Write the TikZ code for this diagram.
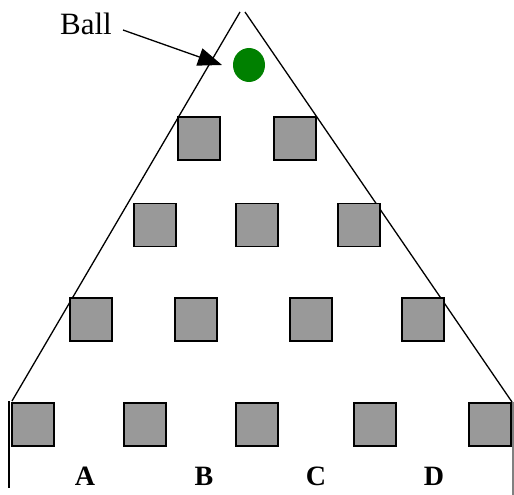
\documentclass[tikz,border=0pt]{standalone}
\usepackage{fontspec}
\setmainfont{Liberation Serif}
\usetikzlibrary{arrows.meta,shapes.geometric}
\definecolor{ballgreen}{RGB}{0,128,0}
\definecolor{pegfill}{RGB}{153,153,153}
\begin{document}
\begin{tikzpicture}[x=1pt,y=-1pt,
  peg/.style={draw=black,line width=1.8pt,fill=pegfill,minimum width=42pt,minimum height=43pt,inner sep=0pt},
  binlabel/.style={font=\fontsize{28}{28}\selectfont\bfseries,anchor=base,inner sep=0pt},
  wall/.style={line width=1.3pt}]
\useasboundingbox (0,0) rectangle (514,495);
% triangle sides and bin walls
\draw[wall] (240,12) -- (12,401);
\draw[wall] (245,12) -- (512,402);
\draw[wall] (9,401) -- (9,488);
\draw[wall,draw=gray] (513,402) -- (513,495);
% pegs
\node[peg] (p11) at (199,138.5) {};
\node[peg] (p12) at (295,138.5) {};
\node[peg] (p21) at (155,225) {};
\node[peg] (p22) at (257,225) {};
\node[peg] (p23) at (359,225) {};
\node[peg] (p31) at (91,319.5) {};
\node[peg] (p32) at (196,319.5) {};
\node[peg] (p33) at (311,319.5) {};
\node[peg] (p34) at (423,319.5) {};
\node[peg] (p41) at (33,424.5) {};
\node[peg] (p42) at (145,424.5) {};
\node[peg] (p43) at (257,424.5) {};
\node[peg] (p44) at (375,424.5) {};
\node[peg] (p45) at (490,424.5) {};
% ball
\node[ellipse,fill=ballgreen,minimum width=32pt,minimum height=34pt,inner sep=0pt] (ball) at (249,65) {};
% labels
\node[font=\fontsize{31}{31}\selectfont,anchor=base,inner sep=0pt] (balltext) at (86,35) {Ball};
\coordinate (tip) at (222,65);
\draw[line width=1.3pt,-{Triangle[length=24pt,width=18pt]}] (123,30) -- (tip);
\node[binlabel] (A) at (85,485) {A};
\node[binlabel] (B) at (204,485) {B};
\node[binlabel] (C) at (316,485) {C};
\node[binlabel] (D) at (434,485) {D};
\end{tikzpicture}
\end{document}
